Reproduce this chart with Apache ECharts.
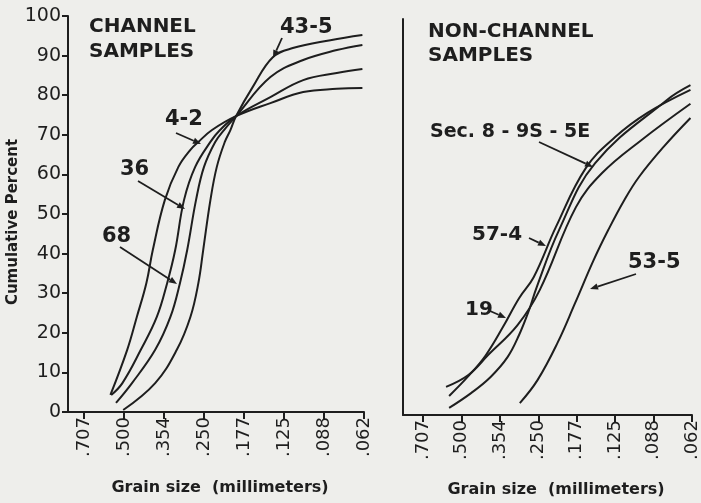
<!DOCTYPE html>
<html><head><meta charset="utf-8">
<script src="https://cdn.jsdelivr.net/npm/echarts@6/dist/echarts.min.js"></script>
<style>html,body{margin:0;padding:0;background:#eeeeeb;}#c{width:701px;height:503px;}</style>
</head><body><div id="c"></div>
<script>
// Grain size axis: phi units with millimetre labels
const phiTicks = [0.5, 1, 1.5, 2, 2.5, 3, 3.5, 4];
const sizeLabels = ['.707', '.500', '.354', '.250', '.177', '.125', '.088', '.062'];

// CHANNEL SAMPLES  [phi, cumulative percent]
const ch_4_2 = [[0.83,4.3],[1.04,15.7],[1.16,24.0],[1.28,32.6],[1.36,40.9],[1.51,53.5],[1.68,61.9],[1.83,66.2],[1.93,68.2],[2.10,71.2],[2.40,74.7],[2.83,78.0],[3.24,80.8],[3.66,81.6],[3.98,81.8]];
const ch_36  = [[0.84,4.3],[0.98,7.3],[1.21,15.7],[1.41,24.0],[1.54,32.6],[1.64,40.9],[1.75,53.5],[1.89,61.9],[2.08,68.2],[2.20,71.2],[2.40,74.7],[2.83,79.5],[3.24,83.8],[3.66,85.6],[3.98,86.6]];
const ch_68  = [[0.90,2.3],[1.10,7.3],[1.39,15.7],[1.58,24.0],[1.70,32.6],[1.79,40.9],[1.90,53.5],[2.00,61.9],[2.14,68.2],[2.25,71.2],[2.40,74.7],[2.83,84.6],[3.24,88.9],[3.66,91.4],[3.98,92.7]];
const ch_43_5= [[0.99,0.5],[1.39,7.3],[1.66,15.7],[1.83,24.0],[1.93,32.6],[1.99,40.9],[2.08,53.5],[2.16,61.9],[2.26,68.2],[2.33,71.2],[2.40,74.7],[2.61,82.1],[2.86,89.6],[3.11,91.9],[3.58,93.9],[3.98,95.2]];

// NON-CHANNEL SAMPLES
const nc_sec  = [[0.84,4.8],[1.09,9.8],[1.31,14.9],[1.54,22.2],[1.75,29.5],[1.94,34.8],[2.23,47.5],[2.62,62.4],[3.00,70.2],[3.42,76.3],[3.98,82.1]];
const nc_19   = [[0.80,7.1],[1.09,10.1],[1.35,15.2],[1.73,22.7],[2.02,31.6],[2.49,52.5],[2.83,61.1],[3.34,69.4],[3.98,78.6]];
const nc_57_4 = [[0.84,1.8],[1.13,5.6],[1.38,9.6],[1.60,14.6],[1.75,20.2],[1.88,26.5],[1.98,32.3],[2.27,46.7],[2.74,63.6],[3.67,79.5],[3.98,83.3]];
const nc_53_5 = [[1.76,3.0],[1.99,8.8],[2.25,18.2],[2.48,28.3],[2.72,39.1],[2.91,46.7],[3.12,54.3],[3.31,60.1],[3.63,67.7],[3.98,75.0]];

const INK = '#1e1e1e';
const FONT = 'DejaVu Sans';

function lbl(v){ const i = phiTicks.indexOf(v); return i >= 0 ? sizeLabels[i] : ''; }

function xAx(grid, min){
  return {
    type:'value', gridIndex:grid, min:min, max:4.0,
    axisLine:{show:true, lineStyle:{color:INK, width:2}},
    axisTick:{show:true, length:7, lineStyle:{color:INK, width:2}, customValues:phiTicks},
    axisLabel:{show:true, rotate:90, margin:5, fontFamily:FONT, fontSize:18, color:INK,
      customValues:phiTicks, formatter:v=>lbl(v)},
    splitLine:{show:false}
  };
}

function line(name, data, gi){
  return {type:'line', name:name, data:data, xAxisIndex:gi, yAxisIndex:gi,
    smooth:0.4, symbol:'none', lineStyle:{color:INK, width:2}};
}

function arrow(x1,y1,x2,y2){
  const a = Math.atan2(y2-y1, x2-x1), L = 8, W = 3.2;
  const bx = x2 - L*Math.cos(a), by = y2 - L*Math.sin(a);
  return [
    {type:'line', shape:{x1:x1,y1:y1,x2:bx,y2:by}, style:{stroke:INK, lineWidth:1.8}},
    {type:'polygon', shape:{points:[[x2,y2],[bx - W*Math.sin(a), by + W*Math.cos(a)],[bx + W*Math.sin(a), by - W*Math.cos(a)]]}, style:{fill:INK}}
  ];
}
function txt(t,x,y,size,align,rot){
  const o = {type:'text', x:x, y:y, style:{text:t, x:0, y:0, font:'bold '+size+'px "'+FONT+'"', fill:INK, textAlign:align||'left', textVerticalAlign:'middle'}};
  if (rot) o.rotation = rot;
  return o;
}

const chart = echarts.init(document.getElementById('c'), null, {renderer:'canvas'});
chart.setOption({
  backgroundColor:'#eeeeeb',
  animation:false,
  grid:[
    {left:68, top:16, width:296, height:396},
    {left:403, top:19, width:296, height:396}
  ],
  xAxis:[ xAx(0, 0.3), xAx(1, 0.24) ],
  yAxis:[
    {type:'value', gridIndex:0, min:0, max:100, interval:10,
     axisLine:{show:true, lineStyle:{color:INK, width:2}},
     axisTick:{show:true, length:6, lineStyle:{color:INK, width:2}},
     axisLabel:{fontFamily:FONT, fontSize:19, color:INK, margin:7},
     splitLine:{show:false}},
    {type:'value', gridIndex:1, min:0, max:100, interval:10,
     axisLine:{show:true, lineStyle:{color:INK, width:2}},
     axisTick:{show:false}, axisLabel:{show:false}, splitLine:{show:false}}
  ],
  series:[
    line('4-2', ch_4_2, 0), line('36', ch_36, 0), line('68', ch_68, 0), line('43-5', ch_43_5, 0),
    line('Sec. 8-9S-5E', nc_sec, 1), line('19', nc_19, 1), line('57-4', nc_57_4, 1), line('53-5', nc_53_5, 1)
  ],
  graphic:[
    txt('Cumulative Percent', 13, 222, 15, 'center', Math.PI/2),
    txt('Grain size  (millimeters)', 220, 488, 16, 'center'),
    txt('Grain size  (millimeters)', 556, 490, 16, 'center'),
    txt('CHANNEL', 89, 27, 20), txt('SAMPLES', 89, 52, 20),
    txt('NON-CHANNEL', 428, 32, 20), txt('SAMPLES', 428, 56, 20),
    txt('43-5', 280, 28, 21), ...arrow(282,38,273,58),
    txt('4-2', 165, 120, 21), ...arrow(176,133,201,144),
    txt('36', 120, 170, 21), ...arrow(138,181,185,209),
    txt('68', 102, 237, 21), ...arrow(120,247,177,284),
    txt('Sec. 8 - 9S - 5E', 430, 132, 19), ...arrow(539,142,593,167),
    txt('57-4', 472, 235, 20), ...arrow(529,238,546,246),
    txt('19', 465, 310, 20), ...arrow(490,311,506,318),
    txt('53-5', 628, 263, 21), ...arrow(636,274,590,289)
  ]
});
</script></body></html>
